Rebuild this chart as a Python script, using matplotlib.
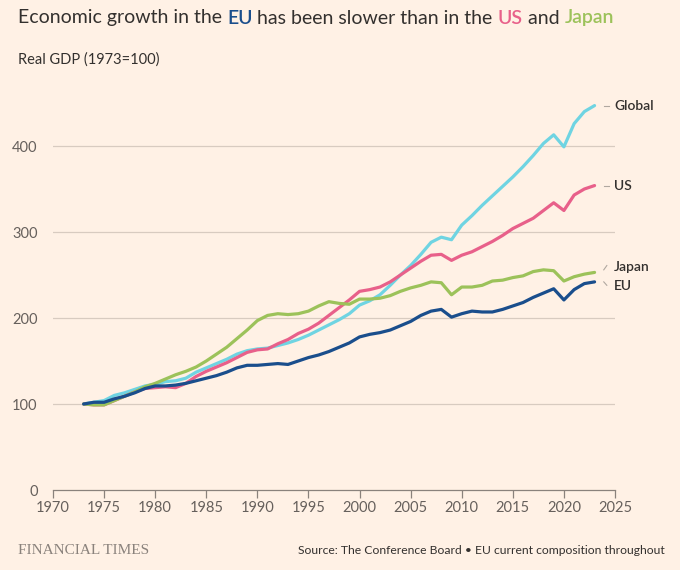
import numpy as np
import matplotlib
matplotlib.use('Agg')
import matplotlib.pyplot as plt

plt.rcParams['font.family'] = ['Lato', 'DejaVu Sans']

# data (Real GDP, 1973=100)
years = list(range(1973, 2024))
eu = [100, 102, 102, 106, 109, 113, 118, 121, 121, 122,
      124, 127, 130, 133, 137, 142, 145, 145, 146, 147,
      146, 150, 154, 157, 161, 166, 171, 178, 181, 183,
      186, 191, 196, 203, 208, 210, 201, 205, 208, 207,
      207, 210, 214, 218, 224, 229, 234, 221, 233, 240,
      242]
us = [100, 99, 99, 104, 109, 114, 118, 119, 120, 119,
      124, 132, 138, 143, 148, 154, 160, 163, 164, 170,
      175, 182, 187, 194, 203, 212, 221, 231, 233, 236,
      242, 250, 258, 266, 273, 274, 267, 273, 277, 283,
      289, 296, 304, 310, 316, 325, 334, 325, 343, 350,
      354]
japan = [100, 99, 99, 104, 109, 114, 120, 124, 129, 134,
         138, 143, 150, 158, 166, 176, 186, 197, 203, 205,
         204, 205, 208, 214, 219, 217, 216, 222, 222, 223,
         226, 231, 235, 238, 242, 241, 227, 236, 236, 238,
         243, 244, 247, 249, 254, 256, 255, 243, 248, 251,
         253]
world = [100, 102, 104, 110, 113, 117, 121, 123, 126, 127,
         130, 137, 142, 147, 152, 158, 162, 164, 165, 168,
         171, 175, 180, 186, 192, 198, 205, 215, 220, 227,
         238, 250, 261, 274, 288, 294, 291, 308, 319, 331,
         342, 353, 364, 376, 389, 403, 413, 399, 426, 440,
         447]

series = ['Global', 'US', 'Japan', 'EU']
values = [world, us, japan, eu]

bg = '#fff1e5'
textcol = '#33302e'
col = {'Global': '#6fd4e2', 'US': '#e8608a', 'Japan': '#9cc25a', 'EU': '#1a4e8c'}

fig = plt.figure(figsize=(6.8, 5.7), dpi=100, facecolor=bg)
ax = fig.add_axes([53/680, 1-490/570, (615-53)/680, (490-85.8)/570])
ax.set_facecolor(bg)

for name, v in zip(series, values):
    ax.plot(years, v, color=col[name], lw=2.3, solid_capstyle='round',
            solid_joinstyle='round', zorder=3)

ax.set_xlim(1970, 2025)
ax.set_ylim(0, 470)
ax.set_xticks(range(1970, 2026, 5))
ax.set_yticks([0, 100, 200, 300, 400])
for yv in [100, 200, 300, 400]:
    ax.axhline(yv, color='#d8cbc0', lw=0.9, zorder=1)
for s in ['top', 'right', 'left']:
    ax.spines[s].set_visible(False)
ax.spines['bottom'].set_color('#8a827c')
ax.spines['bottom'].set_linewidth(0.9)
ax.tick_params(axis='x', length=6, width=0.9, color='#8a827c', labelsize=10.5,
               labelcolor='#66605c', pad=2)
ax.tick_params(axis='y', length=0, labelsize=10.5, labelcolor='#66605c', pad=11)

# end labels with short leader marks
lab_y = {'Global': 447, 'US': 354, 'Japan': 259, 'EU': 237}
lead = '#b0a8a0'
for name in series:
    ax.text(2024.9, lab_y[name], name, color=textcol, fontsize=10,
            fontweight='semibold', va='center', ha='left', clip_on=False)
for name in ['Global', 'US']:
    ax.plot([2023.9, 2024.4], [lab_y[name]] * 2, color=lead, lw=0.8, clip_on=False)
ax.plot([2023.9, 2024.2], [256, 261], color=lead, lw=0.8, clip_on=False)
ax.plot([2023.9, 2024.2], [242, 238], color=lead, lw=0.8, clip_on=False)

# title with coloured words
pieces = [('Economic growth in the ', textcol), ('EU', col['EU']),
          (' has been slower than in the ', textcol), ('US', col['US']),
          (' and ', textcol), ('Japan', col['Japan'])]
r = fig.canvas.get_renderer()
x = 18 / 680
for txt, c in pieces:
    t = fig.text(x, 1 - 18/570, txt, fontsize=14, color=c, va='center', ha='left',
                 fontweight='semibold' if c != textcol else 'normal')
    bb = t.get_window_extent(renderer=r)
    x += bb.width / 680

fig.text(18/680, 1 - 60/570, 'Real GDP (1973=100)', fontsize=10.5, color=textcol,
         va='center', ha='left')
fig.text(18/680, 1 - 550/570, 'FINANCIAL TIMES', fontsize=11, color='#8a827c',
         family='Liberation Serif', va='center', ha='left')
fig.text(665/680, 1 - 550/570, 'Source: The Conference Board \u2022 EU current composition throughout',
         fontsize=8.7, color=textcol, va='center', ha='right')

fig.savefig('out.png', dpi=100, facecolor=bg)
